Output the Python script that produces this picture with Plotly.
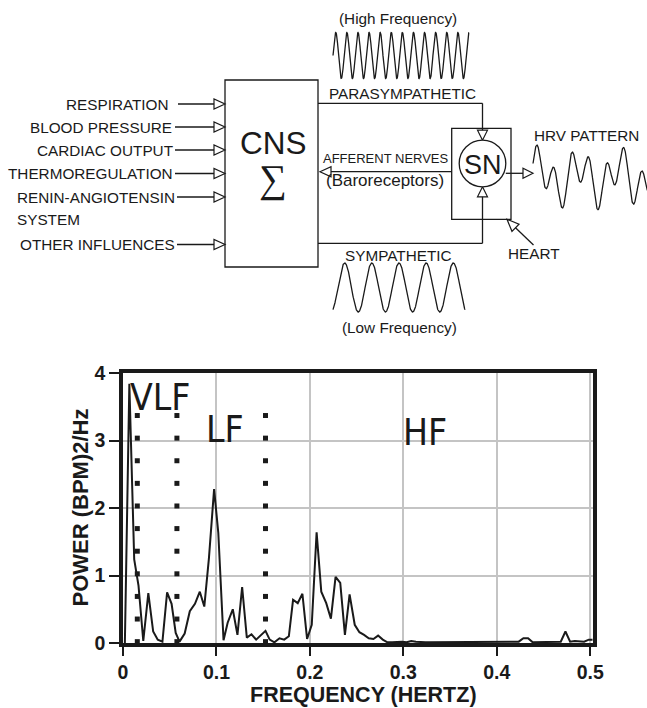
import numpy as np
import plotly.graph_objects as go

# ---------------- data ----------------
freq_hz = [0.002, 0.0068, 0.012, 0.0166, 0.0217, 0.0271, 0.0323, 0.0372, 0.0422, 0.0472,
           0.052, 0.0564, 0.0605, 0.066, 0.0715, 0.077, 0.0822, 0.087, 0.092, 0.0975,
           0.102, 0.1076, 0.112, 0.1175, 0.1225, 0.1275, 0.1325, 0.1375, 0.1425, 0.1475,
           0.1525, 0.157, 0.162, 0.1675, 0.1725, 0.1775, 0.182, 0.187, 0.192, 0.197,
           0.202, 0.2072, 0.2122, 0.2175, 0.2225, 0.2275, 0.2325, 0.2375, 0.2425, 0.248,
           0.253, 0.258, 0.263, 0.268, 0.273, 0.278, 0.283, 0.288, 0.2935, 0.2985,
           0.3035, 0.3085, 0.3135, 0.3185, 0.3235, 0.3285, 0.3335, 0.3385, 0.3435, 0.3485,
           0.3535, 0.3585, 0.3635, 0.3685, 0.3735, 0.3785, 0.3835, 0.3885, 0.3935, 0.3985,
           0.4035, 0.4085, 0.4135, 0.4185, 0.4235, 0.4285, 0.4335, 0.4385, 0.4435, 0.4485,
           0.4535, 0.4585, 0.4635, 0.4685, 0.4735, 0.4785, 0.4835, 0.4885, 0.4935, 0.4985,
           0.5025]
power = [0.0, 3.84, 1.24, 0.85, 0.03, 0.74, 0.17, 0.05, 0.02, 0.75,
         0.58, 0.15, 0.02, 0.14, 0.47, 0.58, 0.76, 0.54, 1.26, 2.28,
         1.63, 0.04, 0.30, 0.50, 0.12, 0.83, 0.08, 0.13, 0.05, 0.12,
         0.18, 0.05, 0.01, 0.07, 0.05, 0.10, 0.64, 0.59, 0.73, 0.06,
         0.27, 1.64, 0.76, 0.59, 0.36, 0.98, 0.89, 0.12, 0.72, 0.27,
         0.16, 0.12, 0.07, 0.06, 0.11, 0.05, 0.01, 0.01, 0.02, 0.02,
         0.01, 0.03, 0.02, 0.01, 0.01, 0.01, 0.01, 0.01, 0.02, 0.01,
         0.02, 0.01, 0.02, 0.01, 0.02, 0.01, 0.01, 0.01, 0.01, 0.01,
         0.01, 0.01, 0.01, 0.01, 0.02, 0.07, 0.07, 0.01, 0.01, 0.01,
         0.01, 0.01, 0.01, 0.02, 0.17, 0.02, 0.03, 0.02, 0.02, 0.05,
         0.05]

band_edges = [0.0153, 0.0577, 0.1525]
dot_levels = [0.02, 0.355, 0.69, 1.025, 1.36, 1.695, 2.03, 2.365, 2.7, 3.035, 3.37]
band_labels = ["VLF", "LF", "HF"]
x_ticks = [0, 0.1, 0.2, 0.3, 0.4, 0.5]
x_ticktext = ["0", "0.1", "0.2", "0.3", "0.4", "0.5"]
y_ticks = [0, 1, 2, 3, 4]
y_ticktext = ["0", "1", "2", "3", "4"]

input_labels = ["RESPIRATION", "BLOOD PRESSURE", "CARDIAC OUTPUT", "THERMOREGULATION",
                "RENIN-ANGIOTENSIN", "OTHER INFLUENCES"]

W, H = 647, 708
INK = "#1a1a1a"
SANS = "Liberation Sans, Arial, sans-serif"
NARROW = "Liberation Sans Narrow, DejaVu Sans Condensed, Arial Narrow, sans-serif"
LBL = 15.3

fig = go.Figure()

# ---------------- spectrum ----------------
fig.add_trace(go.Scatter(x=freq_hz, y=power, mode="lines",
                         line=dict(color=INK, width=2), hoverinfo="skip",
                         xaxis="x", yaxis="y", showlegend=False))
for b in band_edges:
    fig.add_trace(go.Scatter(x=[b] * len(dot_levels), y=dot_levels, mode="markers",
                             marker=dict(symbol="square", size=5, color=INK, line=dict(width=0)),
                             hoverinfo="skip", xaxis="x", yaxis="y", showlegend=False))

# ---------------- diagram helpers (pixel coordinates on x2/y2) ----------------
shapes = []
annotations = []
line_style = dict(color=INK, width=1.3)


def seg(x0, y0, x1, y1, width=1.3):
    shapes.append(dict(type="line", xref="x2", yref="y2", x0=x0, y0=y0, x1=x1, y1=y1,
                       line=dict(color=INK, width=width), layer="above"))


def tri(tipx, tipy, dx, dy, length=11, half=5):
    # hollow triangle arrowhead, tip at (tipx, tipy), pointing along (dx, dy)
    n = (dx * dx + dy * dy) ** 0.5
    ux, uy = dx / n, dy / n
    bx, by = tipx - ux * length, tipy - uy * length
    px, py = -uy, ux
    p1 = (bx + px * half, by + py * half)
    p2 = (bx - px * half, by - py * half)
    path = f"M {tipx},{tipy} L {p1[0]},{p1[1]} L {p2[0]},{p2[1]} Z"
    shapes.append(dict(type="path", xref="x2", yref="y2", path=path,
                       fillcolor="white", line=dict(color=INK, width=1.2), layer="above"))
    return bx, by


def text(x, y, s, size=15, anchor="center", family=SANS, color=INK, angle=0, weight="normal",
         yanchor="middle"):
    annotations.append(dict(xref="x2", yref="y2", x=x, y=y, text=s, showarrow=False,
                            xanchor=anchor, yanchor=yanchor, textangle=angle, borderpad=0,
                            font=dict(family=family, size=size, color=color, weight=weight)))


# CNS box
shapes.append(dict(type="rect", xref="x2", yref="y2", x0=225, y0=80, x1=318, y1=267,
                   line=dict(color=INK, width=1.3), layer="above"))
text(273, 143, "CNS", size=31.5)
text(273, 179, "\u2211", size=39, family="Liberation Serif, DejaVu Serif, serif")

# inputs
rows_y = [104, 127, 150, 173.5, 197, 244.5]
label_right = [170, 173, 174, 174, 176, 176]
line_start = [178, 175, 175, 175, 177, 177]
for lab, yy, lr, ls in zip(input_labels, rows_y, label_right, line_start):
    text(lr, yy, lab, size=LBL, anchor="right")
    bx, by = tri(225, yy, 1, 0)
    seg(ls, yy, bx, yy)
text(15.5, 219.5, "SYSTEM", size=LBL, anchor="left")

# parasympathetic / sympathetic paths
SNX, SNY, SNR = 482.5, 163.5, 23.3
seg(318, 103.3, SNX, 103.3)
bx, by = tri(SNX, SNY - SNR, 0, 1, length=10)
seg(SNX, 103.3, SNX, by)
seg(318, 243.3, SNX, 243.3)
bx, by = tri(SNX, SNY + SNR, 0, -1, length=10)
seg(SNX, 243.3, SNX, by)

text(402, 93, "PARASYMPATHETIC", size=LBL)
text(398.5, 255.5, "SYMPATHETIC", size=LBL)
text(398, 18, "(High Frequency)", size=LBL)
text(399, 327, "(Low Frequency)", size=LBL)

# heart box and SN node
shapes.append(dict(type="rect", xref="x2", yref="y2", x0=451.7, y0=128.3, x1=511, y1=219.3,
                   line=dict(color=INK, width=1.3), layer="above"))
shapes.append(dict(type="circle", xref="x2", yref="y2", x0=SNX - SNR, y0=SNY - SNR,
                   x1=SNX + SNR, y1=SNY + SNR, line=dict(color=INK, width=1.3),
                   fillcolor="white", layer="above"))
text(SNX, SNY + 1, "SN", size=27)

# afferent
bx, by = tri(320, 171.7, -1, 0)
seg(451.7, 171.7, bx, 171.7)
text(385.5, 158.5, "AFFERENT NERVES", size=13)
text(385, 180.5, "(Baroreceptors)", size=17)

# SN -> HRV
bx, by = tri(533, 173.3, 1, 0, length=10)
seg(SNX + SNR, 173.3, bx, 173.3)
text(586.5, 135, "HRV PATTERN", size=LBL)

# heart pointer
bx, by = tri(507, 219.3, -1, -1, length=12, half=5)
seg(533.5, 245, bx, by)
text(534, 253.5, "HEART", size=LBL)

# waves (schematic drawings)
t = np.linspace(0, 1, 600)
hf_x = 333 + 136 * t
hf_y = 55.5 - 23 * np.sin(2 * np.pi * 12.25 * t)
fig.add_trace(go.Scatter(x=hf_x, y=hf_y, mode="lines", line=line_style, hoverinfo="skip",
                         xaxis="x2", yaxis="y2", showlegend=False))
ph0 = np.pi / 2 - 2.7
ph1 = np.pi / 2 + 8 * np.pi + 2.7
lf_x = 333 + 132 * t
lf_y = 287.5 - 24.5 * np.sin(ph0 + (ph1 - ph0) * t)
fig.add_trace(go.Scatter(x=lf_x, y=lf_y, mode="lines", line=line_style, hoverinfo="skip",
                         xaxis="x2", yaxis="y2", showlegend=False))
hrv_x = 533 + 116 * t
s = hrv_x - 533
hrv_y = 177 - (19 * np.sin(2 * np.pi * s / 17.5 + 0.3) + 14 * np.sin(2 * np.pi * s / 40 + 0.6))
fig.add_trace(go.Scatter(x=hrv_x, y=hrv_y, mode="lines", line=line_style, hoverinfo="skip",
                         xaxis="x2", yaxis="y2", showlegend=False))

# band labels inside the spectrum
text(160, 397, band_labels[0], size=37, family=NARROW)
text(225, 429, band_labels[1], size=37, family=NARROW)
text(424.5, 432.5, band_labels[2], size=37, family=NARROW)

# axis titles
text(363.5, 708, "FREQUENCY (HERTZ)", size=21.5, weight="bold", yanchor="bottom")
text(80, 507.5, "POWER (BPM)2/Hz", size=22, weight="bold", angle=-90)

tickfont = dict(family=SANS, size=19.5, color=INK, weight="bold")
fig.update_layout(
    width=W, height=H, margin=dict(l=0, r=0, t=0, b=0, pad=0, autoexpand=False),
    paper_bgcolor="white", plot_bgcolor="rgba(0,0,0,0)",
    showlegend=False,
    xaxis=dict(domain=[123 / W, 593 / W], range=[0, 0.503], tickvals=x_ticks, ticktext=x_ticktext,
               showgrid=True, gridcolor="#c4c4c4", gridwidth=1.5, zeroline=False,
               showline=True, linecolor=INK, linewidth=3.5, mirror=True,
               ticks="outside", ticklen=9, tickwidth=1.5, tickcolor=INK,
               tickfont=tickfont, anchor="y", fixedrange=True, automargin=False),
    yaxis=dict(domain=[65 / H, 335 / H], range=[0, 4], tickvals=y_ticks, ticktext=y_ticktext,
               showgrid=True, gridcolor="#c4c4c4", gridwidth=1.5, zeroline=False,
               showline=True, linecolor=INK, linewidth=3.5, mirror=True,
               ticks="outside", ticklen=10, tickwidth=1.5, tickcolor=INK,
               tickfont=tickfont, anchor="x", fixedrange=True, automargin=False),
    xaxis2=dict(domain=[0, 1], range=[0, W], visible=False, anchor="y2", fixedrange=True,
                automargin=False),
    yaxis2=dict(domain=[0, 1], range=[H, 0], visible=False, anchor="x2", fixedrange=True,
                automargin=False),
    shapes=shapes, annotations=annotations,
)

fig.write_html("out.html", config={"responsive": False, "displayModeBar": False},
               post_script="document.body.style.margin='0';document.body.style.padding='0';"
                           "document.body.style.overflow='hidden';")
